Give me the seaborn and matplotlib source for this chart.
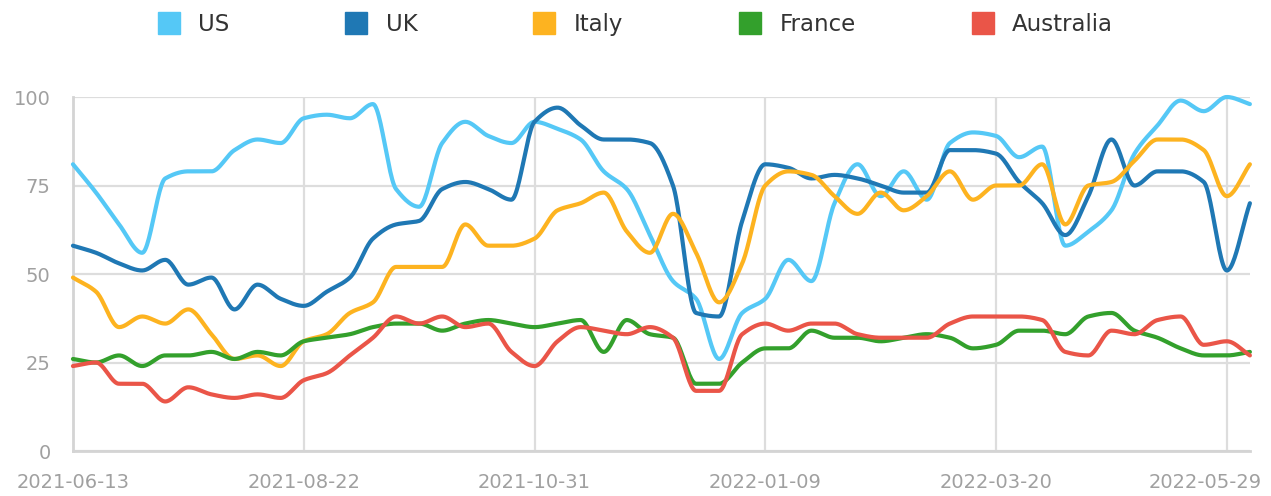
import numpy as np
import pandas as pd
import matplotlib
import matplotlib.pyplot as plt
from matplotlib.lines import Line2D
from matplotlib.transforms import ScaledTranslation
import seaborn as sns

matplotlib.use('Agg')

# weekly values, 2021-06-13 .. 2022-06-05
start = '2021-06-13'
countries = ['US', 'UK', 'Italy', 'France', 'Australia']
colors = ['#55c8f6', '#1f78b4', '#fdb320', '#33a02c', '#ea5548']

us = [81, 73, 64, 56, 77, 79, 79, 85, 88, 87, 94, 95, 94, 98, 74, 69, 87, 93, 89, 87,
      93, 91, 88, 79, 74, 61, 48, 43, 26, 39, 43, 54, 48, 70, 81, 72, 79, 71, 87, 90,
      89, 83, 86, 58, 62, 68, 84, 92, 99, 96, 100, 98]
uk = [58, 56, 53, 51, 54, 47, 49, 40, 47, 43, 41, 45, 49, 60, 64, 65, 74, 76, 74, 71,
      93, 97, 92, 88, 88, 87, 75, 39, 38, 65, 81, 80, 77, 78, 77, 75, 73, 73, 85, 85,
      84, 76, 70, 61, 72, 88, 75, 79, 79, 76, 51, 70]
italy = [49, 45, 35, 38, 36, 40, 33, 26, 27, 24, 31, 33, 39, 42, 52, 52, 52, 64, 58, 58,
         60, 68, 70, 73, 62, 56, 67, 56, 42, 53, 75, 79, 78, 72, 67, 73, 68, 72, 79, 71,
         75, 75, 81, 64, 75, 76, 82, 88, 88, 85, 72, 81]
france = [26, 25, 27, 24, 27, 27, 28, 26, 28, 27, 31, 32, 33, 35, 36, 36, 34, 36, 37, 36,
          35, 36, 37, 28, 37, 33, 32, 19, 19, 25, 29, 29, 34, 32, 32, 31, 32, 33, 32, 29,
          30, 34, 34, 33, 38, 39, 34, 32, 29, 27, 27, 28]
australia = [24, 25, 19, 19, 14, 18, 16, 15, 16, 15, 20, 22, 27, 32, 38, 36, 38, 35, 36, 28,
             24, 31, 35, 34, 33, 35, 32, 17, 17, 33, 36, 34, 36, 36, 33, 32, 32, 32, 36, 38,
             38, 38, 37, 28, 27, 34, 33, 37, 38, 30, 31, 27]

tick_dates = ['2021-06-13', '2021-08-22', '2021-10-31', '2022-01-09', '2022-03-20', '2022-05-29']
y_ticks = [0, 25, 50, 75, 100]


def smooth(y, steps=24):
    # monotone cubic spline, only to draw the weekly points as a smooth curve
    y = np.asarray(y, float)
    n = len(y)
    d = np.diff(y)
    m = np.zeros(n)
    m[0], m[-1] = d[0], d[-1]
    for i in range(1, n - 1):
        if d[i - 1] * d[i] > 0:
            m[i] = 2 / (1 / d[i - 1] + 1 / d[i])
    xs = np.linspace(0, n - 1, (n - 1) * steps + 1)
    idx = np.minimum(xs.astype(int), n - 2)
    t = xs - idx
    h00 = 2 * t**3 - 3 * t**2 + 1
    h10 = t**3 - 2 * t**2 + t
    h01 = -2 * t**3 + 3 * t**2
    h11 = t**3 - t**2
    ys = h00 * y[idx] + h10 * m[idx] + h01 * y[idx + 1] + h11 * m[idx + 1]
    return xs, ys


frames = []
for name, vals in zip(countries, [us, uk, italy, france, australia]):
    xs, ys = smooth(vals)
    frames.append(pd.DataFrame({
        'date': pd.Timestamp(start) + pd.to_timedelta(xs * 7, unit='D'),
        'value': ys,
        'country': name,
    }))
df = pd.concat(frames, ignore_index=True)

sns.set_style('white')
plt.rcParams['font.family'] = ['DejaVu Sans']

fig = plt.figure(figsize=(12.71, 4.96), dpi=100)
ax = fig.add_axes([0.0574, 0.0907, 0.926, 0.7137])

sns.lineplot(data=df, x='date', y='value', hue='country', hue_order=countries,
             palette=dict(zip(countries, colors)), estimator=None, lw=3.0,
             legend=False, ax=ax)
for line in ax.lines:
    line.set_clip_on(False)
    line.set_solid_capstyle('round')
    line.set_zorder(3)

ax.set_xlim(pd.Timestamp(start), pd.Timestamp(start) + pd.Timedelta(weeks=len(us) - 1))
ax.set_ylim(0, 100)
ax.set_xticks(pd.to_datetime(tick_dates))
ax.set_xticklabels(tick_dates)
ax.set_yticks(y_ticks)
ax.set_xlabel('')
ax.set_ylabel('')
ax.grid(True, color='#dddddd', lw=1.6)
ax.set_axisbelow(True)
ax.tick_params(length=0, labelsize=14, labelcolor='#a0a0a0')
ax.tick_params(axis='y', pad=16)
ax.tick_params(axis='x', pad=16)
# last date label is pulled left so it stays inside the figure
last = ax.get_xticklabels()[-1]
last.set_transform(last.get_transform() + ScaledTranslation(-0.22, 0, fig.dpi_scale_trans))
for s in ['top', 'right']:
    ax.spines[s].set_visible(False)
for s in ['left', 'bottom']:
    ax.spines[s].set_color('#d4d4d4')
    ax.spines[s].set_linewidth(2)

handles = [Line2D([], [], ls='none', marker='s', markersize=16, color=c) for c in colors]
fig.legend(handles, countries, loc='upper center', bbox_to_anchor=(0.497, 1.015), ncol=5,
           frameon=False, fontsize=16.5, columnspacing=4.75, handlelength=1.6,
           handletextpad=0.47, labelcolor='#333333')

fig.savefig('out.png', dpi=100)
